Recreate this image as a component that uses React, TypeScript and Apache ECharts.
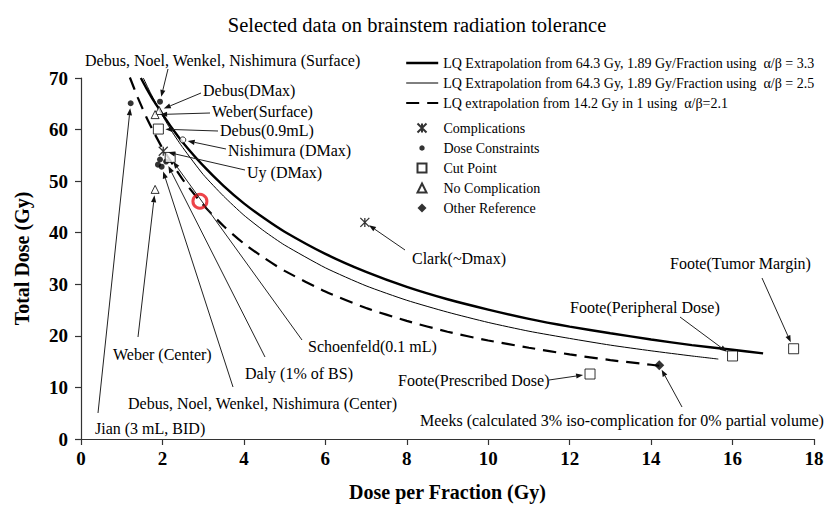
import React, { useEffect, useRef } from "react";
import * as echarts from "echarts";

// ---------- texts ----------
const TITLE = "Selected data on brainstem radiation tolerance";
const X_NAME = "Dose per Fraction (Gy)";
const Y_NAME = "Total Dose (Gy)";

const S_LQ33 = "LQ Extrapolation from 64.3 Gy, 1.89 Gy/Fraction using  \u03b1/\u03b2 = 3.3";
const S_LQ25 = "LQ Extrapolation from 64.3 Gy, 1.89 Gy/Fraction using  \u03b1/\u03b2 = 2.5";
const S_LQ21 = "LQ extrapolation from 14.2 Gy in 1 using  \u03b1/\u03b2=2.1";
const S_COMP = "Complications";
const S_DOSE = "Dose Constraints";
const S_CUT = "Cut Point";
const S_NOCOMP = "No Complication";
const S_OTHER = "Other Reference";

// ---------- curves ----------
const LQ33_X = [1.47, 1.6, 1.8, 2.0, 2.25, 2.5, 3.0, 3.5, 4.0, 4.5, 5.0, 6.0, 7.0, 8.0, 9.0, 10.0, 11.0, 12.0, 13.0, 14.0, 15.0, 16.0, 16.75];
const LQ33_Y = [70.0, 68.1, 65.4, 63.0, 60.1, 57.5, 53.0, 49.1, 45.7, 42.8, 40.2, 35.9, 32.4, 29.5, 27.1, 25.1, 23.3, 21.8, 20.5, 19.3, 18.2, 17.3, 16.6];

const LQ25_X = [1.53, 1.7, 2.0, 2.25, 2.5, 3.0, 3.5, 4.0, 4.5, 5.0, 6.0, 7.0, 8.0, 9.0, 10.0, 11.0, 12.0, 13.0, 14.0, 15.0, 15.65];
const LQ25_Y = [70.0, 67.2, 62.7, 59.4, 56.5, 51.3, 47.1, 43.4, 40.3, 37.6, 33.2, 29.7, 26.9, 24.6, 22.6, 20.9, 19.5, 18.2, 17.1, 16.1, 15.5];

const LQ21_X = [1.2, 1.4, 1.6, 1.8, 2.0, 2.5, 3.0, 3.5, 4.0, 4.5, 5.0, 6.0, 7.0, 8.0, 9.0, 10.0, 11.0, 12.0, 13.0, 14.0, 14.2];
const LQ21_Y = [70.1, 66.1, 62.5, 59.3, 56.4, 50.3, 45.4, 41.3, 37.9, 35.1, 32.6, 28.6, 25.4, 22.9, 20.8, 19.1, 17.7, 16.4, 15.3, 14.4, 14.2];

// ---------- points (dose per fraction, total dose) ----------
const COMPLICATIONS = [[2.02, 55.8], [6.97, 42.0]];
const DOSE_CONSTRAINTS = [[1.22, 65.1], [1.94, 65.4], [1.94, 54.2], [1.89, 53.2], [1.98, 52.8], [2.09, 53.8]];
const CUT_POINTS = [[1.9, 60.1], [2.5, 58.0], [2.19, 54.6], [12.5, 12.6], [16.0, 16.1], [17.5, 17.5]];
const NO_COMPLICATION = [[1.92, 63.7], [1.82, 62.9], [1.82, 48.4]];
const OTHER_REFERENCE = [[14.2, 14.3]];
const HIGHLIGHT = [[2.92, 46.1]];

const X_TICKS = { min: 0, max: 18, interval: 2 };
const Y_TICKS = { min: 0, max: 70, interval: 10 };

const POINTS: Record<string, number[][]> = {
  comp: COMPLICATIONS,
  dose: DOSE_CONSTRAINTS,
  cut: CUT_POINTS,
  nocomp: NO_COMPLICATION,
  other: OTHER_REFERENCE,
};

// ---------- annotation layout (pixels) ----------
type Ann = { text: string; x: number; y: number; from: number[]; set: string; idx: number; gap?: number };
const ANNOTATIONS: Ann[] = [
  { text: "Debus, Noel, Wenkel, Nishimura (Surface)", x: 85, y: 60, from: [168, 69], set: "dose", idx: 1 },
  { text: "Debus(DMax)", x: 203, y: 90, from: [201, 93], set: "nocomp", idx: 0 },
  { text: "Weber(Surface)", x: 212, y: 111, from: [210, 113], set: "nocomp", idx: 1 },
  { text: "Debus(0.9mL)", x: 220, y: 130, from: [218, 131], set: "cut", idx: 0, gap: 7 },
  { text: "Nishimura (DMax)", x: 228, y: 150, from: [226, 149], set: "cut", idx: 1 },
  { text: "Uy (DMax)", x: 247, y: 172, from: [245, 170], set: "comp", idx: 0 },
  { text: "Clark(~Dmax)", x: 412, y: 258, from: [405, 250], set: "comp", idx: 1 },
  { text: "Foote(Tumor Margin)", x: 670, y: 263, from: [762, 278], set: "cut", idx: 5, gap: 7 },
  { text: "Foote(Peripheral Dose)", x: 570, y: 307, from: [680, 317], set: "cut", idx: 4, gap: 7 },
  { text: "Foote(Prescribed Dose)", x: 398, y: 380, from: [549, 380], set: "cut", idx: 3, gap: 7 },
  { text: "Meeks (calculated 3% iso-complication for 0% partial volume)", x: 420, y: 420, from: [682, 407], set: "other", idx: 0 },
  { text: "Schoenfeld(0.1 mL)", x: 308, y: 346, from: [302, 340], set: "cut", idx: 2 },
  { text: "Daly (1% of BS)", x: 245, y: 373, from: [265, 357], set: "dose", idx: 5 },
  { text: "Debus, Noel, Wenkel, Nishimura (Center)", x: 128, y: 403, from: [233, 387], set: "dose", idx: 4 },
  { text: "Weber (Center)", x: 113, y: 354, from: [138, 337], set: "nocomp", idx: 2, gap: 6 },
  { text: "Jian (3 mL, BID)", x: 95, y: 428, from: [98, 413], set: "dose", idx: 0 },
];

const SERIF = "'Liberation Serif', 'DejaVu Serif', serif";
const ASTERISK = "path://M0,0L10,10M10,0L0,10M5,0L5,10";
// small dot inside a 10x10 box (the bare moves keep the box size)
const SMALL_DOT = "path://M0,0M10,10M8,5L7.6,6.5L6.5,7.6L5,8L3.5,7.6L2.4,6.5L2,5L2.4,3.5L3.5,2.4L5,2L6.5,2.4L7.6,3.5Z";

function zip(xs: number[], ys: number[]) {
  return xs.map((x, i) => [x, ys[i]]);
}

export default function App() {
  const ref = useRef<HTMLDivElement>(null);

  useEffect(() => {
    const el = ref.current!;
    const chart = echarts.init(el, null, { renderer: "svg" });

    const openStyle = { color: "#fff", borderColor: "#000", borderWidth: 1 };
    const thickLine = { color: "#000", width: 2.4 };
    const thinLine = { color: "#000", width: 1 };
    const dashLine = { color: "#000", width: 2.2, type: [13, 8] };

    const option: any = {
      animation: false,
      backgroundColor: "#fff",
      title: {
        text: TITLE,
        left: "center",
        top: 9,
        textStyle: { fontFamily: SERIF, fontSize: 20.5, fontWeight: "normal", color: "#000" },
      },
      grid: { left: 81, right: 20, top: 78, bottom: 66, containLabel: false },
      legend: [
        {
          data: [
            { name: S_LQ33, lineStyle: thickLine },
            { name: S_LQ25, lineStyle: thinLine },
            { name: S_LQ21, lineStyle: dashLine },
          ],
          orient: "vertical",
          left: 400,
          top: 51,
          itemWidth: 32,
          itemHeight: 10,
          itemGap: 6,
          itemStyle: { opacity: 0 },
          textStyle: { fontFamily: SERIF, fontSize: 14, color: "#000", lineHeight: 14 },
          selectedMode: false,
        },
        {
          data: [
            { name: S_COMP },
            { name: S_DOSE, icon: SMALL_DOT },
            { name: S_CUT },
            { name: S_NOCOMP },
            { name: S_OTHER },
          ],
          orient: "vertical",
          left: 411.5,
          top: 116,
          itemWidth: 9,
          itemHeight: 9,
          itemGap: 6,
          textStyle: { fontFamily: SERIF, fontSize: 14, color: "#000", lineHeight: 14, padding: [0, 0, 0, 12] },
          selectedMode: false,
        },
      ],
      xAxis: {
        type: "value",
        min: X_TICKS.min,
        max: X_TICKS.max,
        interval: X_TICKS.interval,
        name: X_NAME,
        nameLocation: "middle",
        nameGap: 43,
        nameTextStyle: { fontFamily: SERIF, fontSize: 20, fontWeight: "bold", color: "#000" },
        axisLine: { show: true, onZero: false, lineStyle: { color: "#333", width: 1.2 } },
        axisTick: { show: true, inside: false, length: 6, lineStyle: { color: "#333", width: 1.2 } },
        axisLabel: { fontFamily: SERIF, fontSize: 19, fontWeight: "bold", color: "#000", margin: 10 },
        splitLine: { show: false },
      },
      yAxis: {
        type: "value",
        min: Y_TICKS.min,
        max: Y_TICKS.max,
        interval: Y_TICKS.interval,
        name: Y_NAME,
        nameLocation: "middle",
        nameGap: 49,
        nameTextStyle: { fontFamily: SERIF, fontSize: 20, fontWeight: "bold", color: "#000" },
        axisLine: { show: true, onZero: false, lineStyle: { color: "#333", width: 1.2 } },
        axisTick: { show: true, inside: false, length: 6, lineStyle: { color: "#333", width: 1.2 } },
        axisLabel: { fontFamily: SERIF, fontSize: 19, fontWeight: "bold", color: "#000", margin: 13 },
        splitLine: { show: false },
      },
      series: [
        {
          name: S_LQ33,
          type: "line",
          data: zip(LQ33_X, LQ33_Y),
          symbol: "none",
          smooth: 0.2,
          lineStyle: thickLine,
          itemStyle: { color: "#000" },
          z: 3,
        },
        {
          name: S_LQ25,
          type: "line",
          data: zip(LQ25_X, LQ25_Y),
          symbol: "none",
          smooth: 0.2,
          lineStyle: thinLine,
          itemStyle: { color: "#000" },
          z: 3,
        },
        {
          name: S_LQ21,
          type: "line",
          data: zip(LQ21_X, LQ21_Y),
          symbol: "none",
          smooth: 0.2,
          lineStyle: dashLine,
          itemStyle: { color: "#000" },
          z: 3,
        },
        {
          name: S_COMP,
          type: "scatter",
          data: COMPLICATIONS,
          symbol: ASTERISK,
          symbolSize: 9,
          itemStyle: { color: "transparent", borderColor: "#000", borderWidth: 1.3 },
          z: 4,
        },
        {
          name: S_DOSE,
          type: "scatter",
          data: DOSE_CONSTRAINTS,
          symbol: "circle",
          symbolSize: 6,
          itemStyle: { color: "#000" },
          z: 4,
        },
        {
          name: S_CUT,
          type: "scatter",
          data: CUT_POINTS.map((p, i) =>
            i === 1 ? { value: p, symbol: "circle", symbolSize: 6 } : { value: p }
          ),
          symbol: "rect",
          symbolSize: 10,
          itemStyle: openStyle,
          z: 4,
        },
        {
          name: S_NOCOMP,
          type: "scatter",
          data: NO_COMPLICATION,
          symbol: "triangle",
          symbolSize: 8,
          itemStyle: openStyle,
          z: 4,
        },
        {
          name: S_OTHER,
          type: "scatter",
          data: OTHER_REFERENCE,
          symbol: "diamond",
          symbolSize: 10,
          itemStyle: { color: "#000" },
          z: 4,
        },
        {
          name: "highlight",
          type: "scatter",
          data: HIGHLIGHT,
          symbol: "circle",
          symbolSize: 14,
          itemStyle: { color: "transparent", borderColor: "#e8141c", borderWidth: 3 },
          z: 5,
        },
      ],
    };

    chart.setOption(option);

    const graphics: any[] = [];
    ANNOTATIONS.forEach((a) => {
      const target = POINTS[a.set][a.idx];
      const p = chart.convertToPixel({ gridIndex: 0 }, target) as number[];
      const tx = p[0];
      const ty = p[1];
      const sx = a.from[0];
      const sy = a.from[1];
      const dx = sx - tx;
      const dy = sy - ty;
      const len = Math.hypot(dx, dy) || 1;
      const ux = dx / len;
      const uy = dy / len;
      const gap = a.gap ?? 5;
      const tipX = tx + ux * gap;
      const tipY = ty + uy * gap;
      const head = 7;
      const hw = 2.6;
      const bx = tipX + ux * head;
      const by = tipY + uy * head;
      const nx = -uy;
      const ny = ux;
      graphics.push({
        type: "line",
        silent: true,
        shape: { x1: sx, y1: sy, x2: bx, y2: by },
        style: { stroke: "#222", lineWidth: 1 },
        z: 10,
      });
      graphics.push({
        type: "polygon",
        silent: true,
        shape: { points: [[tipX, tipY], [bx + nx * hw, by + ny * hw], [bx - nx * hw, by - ny * hw]] },
        style: { fill: "#111" },
        z: 10,
      });
      graphics.push({
        type: "text",
        silent: true,
        x: a.x,
        y: a.y,
        style: {
          text: a.text,
          fill: "#000",
          fontFamily: SERIF,
          fontSize: 16,
          align: "left",
          verticalAlign: "middle",
          textAlign: "left",
          textVerticalAlign: "middle",
        },
        z: 10,
      });
    });
    chart.setOption({ graphic: graphics });

    return () => {
      chart.dispose();
    };
  }, []);

  return (
    <div
      ref={ref}
      style={{ position: "absolute", left: 0, top: 0, width: 834, height: 507, background: "#fff" }}
    />
  );
}
